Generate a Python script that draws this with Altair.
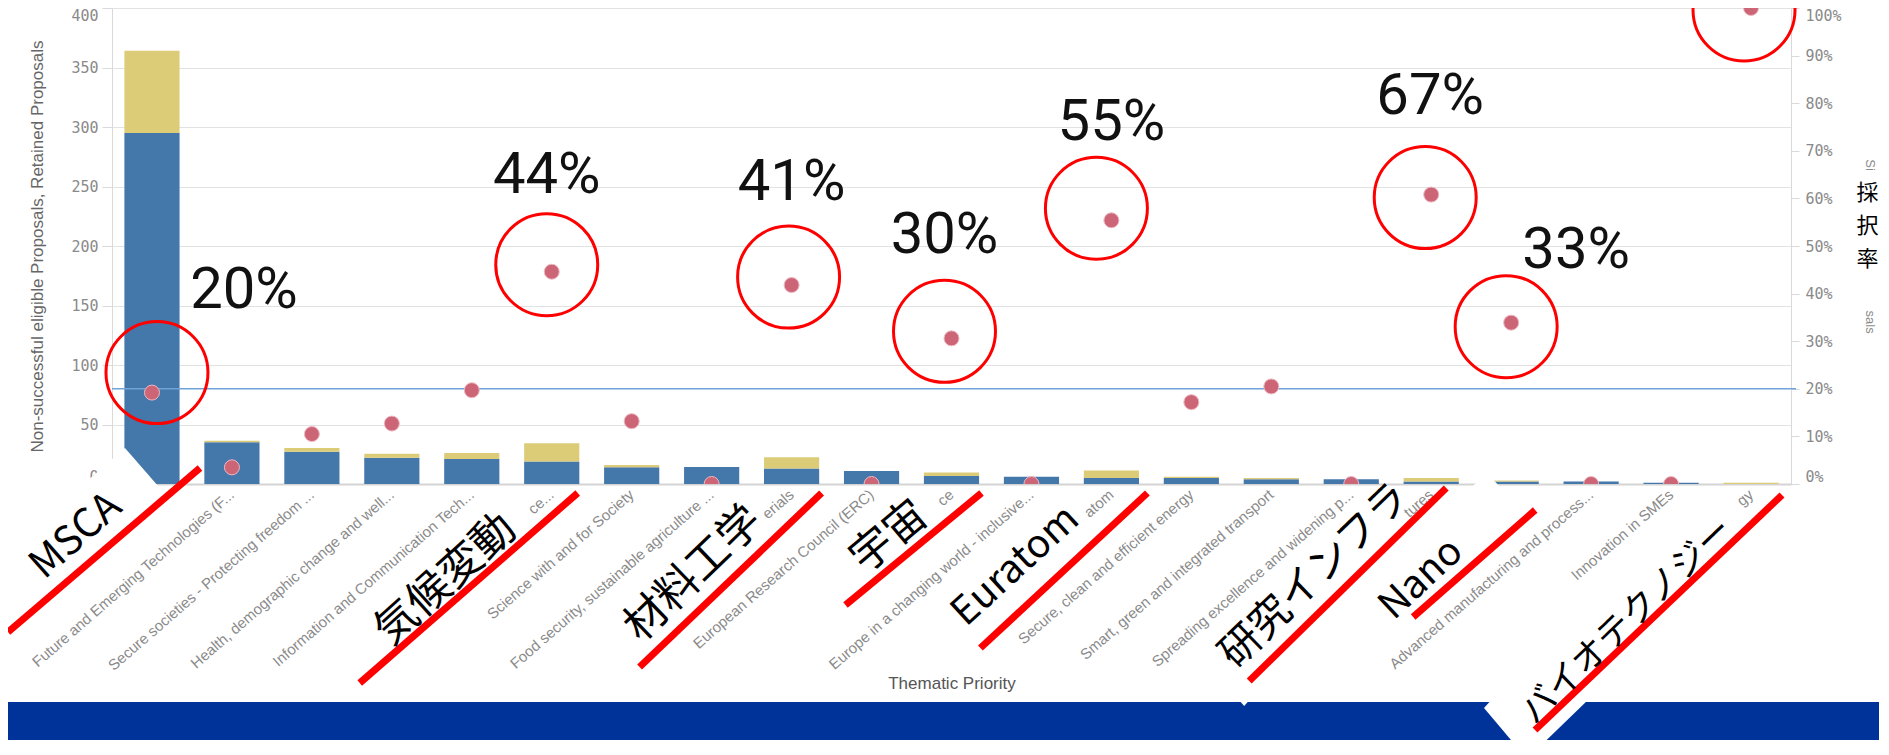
import json
import altair as alt
import pandas as pd

# ---------------- data ----------------
categories = [
    "Marie Skłodowska-Curie Actions (MSCA)",
    "Future and Emerging Technologies (FET)",
    "Secure societies - Protecting freedom and security of Europe and its citizens",
    "Health, demographic change and wellbeing",
    "Information and Communication Technologies",
    "Climate action, environment, resource efficiency and raw materials",
    "Science with and for Society",
    "Food security, sustainable agriculture and forestry, marine research and the bioeconomy",
    "Advanced materials",
    "European Research Council (ERC)",
    "Space",
    "Europe in a changing world - inclusive, innovative and reflective societies",
    "Euratom",
    "Secure, clean and efficient energy",
    "Smart, green and integrated transport",
    "Spreading excellence and widening participation",
    "Research infrastructures",
    "Nanotechnologies",
    "Advanced manufacturing and processing",
    "Innovation in SMEs",
    "Biotechnology",
]
# tick labels as they remain visible on the slide
tick_labels = [
    "",
    "Future and Emerging Technologies (F...",
    "Secure societies - Protecting freedom ...",
    "Health, demographic change and well...",
    "Information and Communication Tech...",
    "ce...",
    "Science with and for Society",
    "Food security, sustainable agriculture ...",
    "erials",
    "European Research Council (ERC)",
    "ce",
    "Europe in a changing world - inclusive...",
    "atom",
    "Secure, clean and efficient energy",
    "Smart, green and integrated transport",
    "Spreading excellence and widening p...",
    "tures",
    "",
    "Advanced manufacturing and process...",
    "Innovation in SMEs",
    "gy",
]
non_successful = [295, 35, 27, 22, 21, 19, 14, 14.3, 13, 11, 6.7, 6, 5, 5, 4, 4, 2, 2, 2, 1, 0]
retained = [69, 1.3, 3.3, 3.5, 5, 15.3, 2, 0, 9.5, 0, 3, 0, 6.4, 1, 1, 0, 3, 1, 0, 0, 1]
success_rate = [19.2, 3.5, 10.5, 12.7, 19.7, 44.6, 13.2, 0, 41.8, 0, 30.6, 0, 55.4,
                17.2, 20.5, 0, 60.8, 33.9, 0, 0, 100]
average_rate = 20

series_names = ["Non-successful eligible Proposals", "Retained Proposals"]

pct_label_text = ["20%", "44%", "41%", "30%", "55%", "67%", "33%"]
pct_label_idx = [0, 5, 8, 10, 12, 16, 17]
circle_idx = [0, 5, 8, 10, 12, 16, 17, 20]
overlay_text = ["MSCA", "気候変動", "材料工学", "宇宙", "Euratom", "研究インフラ", "Nano", "バイオテクノジー"]
overlay_idx = [0, 5, 8, 10, 12, 16, 17, 20]
axis_title_fragments = ["Si", "sals"]

# ---------------- layout / style (not data) ----------------
W, H = 1679, 476
PAD = {"left": 104, "right": 88, "top": 0, "bottom": 256}
BLUE, YELLOW, ROSE = "#4477aa", "#ddcc77", "#cc6677"
GRAY_TXT = "#8a8a8a"
JP_FONT = "Noto Sans CJK JP"

PCT_OFFSETS = [(92, -102), (-5, -96), (0, -102), (-7, -102), (0, -97), (-1, -98), (65, -72)]
CIRCLE_OFFSETS = [(5, -20), (-5, -7), (-3, -8), (-7, -7), (-15, -12), (-6, 3), (-5, 4), (-7, 2)]
# (text dx, text dy, text angle, font size, red-line path relative to the category's baseline)
OVERLAY_STYLE = [
    (-76, 52, 318.5, 40, "M-144,148L48,-16"),
    (-106, 96, 318, 43, "M-192,199L26,9"),
    (-98, 90, 316, 43, "M-152,183L30,9"),
    (-62, 53, 320, 43, "M-106,121L30,9"),
    (-96, 82, 317.5, 39, "M-131,164L36,9"),
    (-116, 92, 316, 41, "M-182,197L15,4"),
    (-90, 95, 317, 39, "M-98,133L24,26"),
    (-124, 137, 316, 35, "M-216,246L31,11"),
]
# white label boxes of the slide that hide parts of the chart (relative to a category baseline)
WHITE_BOXES = [
    (0, "M-27,-36L12.4,9.3L-183.9,179.9L-223.3,134.6Z"),
    (17, "M-23.6,-11L12.6,30.4L-137.8,162.2L-174,120.8Z"),
    (16, "M-194,214L-187,222L-180,214Z"),
    (20, "M-258,214L-267,224L-224,275L-161,214Z"),
]

# ---------------- tables ----------------
bars_df = pd.DataFrame({
    "category": categories * 2,
    "series": [series_names[0]] * len(categories) + [series_names[1]] * len(categories),
    "value": non_successful + retained,
    "order": [0] * len(categories) + [1] * len(categories),
})
rate_df = pd.DataFrame({"category": categories, "rate": [r / 100 for r in success_rate]})

labels_js = json.dumps(tick_labels, ensure_ascii=False)
cats_js = json.dumps(categories, ensure_ascii=False)
label_expr = f"{labels_js}[indexof({cats_js}, datum.value)]"

x_scale = alt.Scale(domain=categories, paddingInner=0.31, paddingOuter=0.155)

x_axis = alt.Axis(
    title="Thematic Priority", labelExpr=label_expr, labelAngle=319, labelAlign="right",
    labelBaseline="middle", labelPadding=8, labelLimit=500, labelOverlap=False,
    labelFont="Liberation Sans", labelFontSize=15, labelColor=GRAY_TXT,
    ticks=False, domainColor="#d4d4d4", domainWidth=2, grid=False,
    titleFont="Liberation Sans", titleFontSize=17, titleFontWeight="normal",
    titleColor="#555555", titleY=199, titleBaseline="middle",
)
left_axis = alt.Axis(
    title="Non-successful eligible Proposals, Retained Proposals",
    values=list(range(0, 401, 50)), labelFont="DejaVu Sans Mono", labelFontSize=15,
    labelColor=GRAY_TXT, labelPadding=4, labelFlush=True, tickSize=10, tickColor="#d9d9d9",
    domainColor="#d9d9d9", gridColor="#e2e2e2", grid=True,
    titleFont="Liberation Sans", titleFontSize=17, titleFontWeight="normal",
    titleColor="#666666", titleX=-75, titleBaseline="middle",
)
right_axis = alt.Axis(
    orient="right", title=["採", "択", "率"], values=[round(i * 0.1, 1) for i in range(11)],
    format=".0%", labelFont="DejaVu Sans Mono", labelFontSize=15, labelColor=GRAY_TXT,
    labelPadding=6, labelFlush=True, tickSize=8, tickColor="#d9d9d9", domainColor="#d9d9d9",
    grid=False, titleAngle=0, titleX=76, titleY=184, titleFont=JP_FONT, titleFontSize=22,
    titleFontWeight="normal", titleColor="black", titleLineHeight=33, titleAlign="center",
    titleBaseline="middle",
)

y_left_scale = alt.Scale(domain=[0, 400], nice=False)
y_right_scale = alt.Scale(domain=[0, 1], nice=False)


def xenc():
    return alt.X("category:N", sort=categories, scale=x_scale, axis=x_axis)


def yleft(field):
    return alt.Y(field, scale=y_left_scale, axis=left_axis)


def yright(field):
    return alt.Y(field, scale=y_right_scale, axis=right_axis)


# ---------------- left (count) group ----------------
bars = alt.Chart(bars_df).mark_bar().encode(
    x=xenc(),
    y=alt.Y("value:Q", stack="zero", scale=y_left_scale, axis=left_axis),
    color=alt.Color("series:N", scale=alt.Scale(domain=series_names, range=[BLUE, YELLOW]), legend=None),
    order=alt.Order("order:Q"),
)

band = alt.Chart(pd.DataFrame({"k": [0]})).mark_rect(color="#003399").encode(
    x=alt.value(-PAD["left"]), x2=alt.value(W + PAD["right"]),
    y=alt.value(694), y2=alt.value(H + PAD["bottom"]),
)

left_layers = [bars, band]
for idx, path in WHITE_BOXES:
    df = pd.DataFrame({"category": [categories[idx]], "value": [0]})
    left_layers.append(
        alt.Chart(df).mark_point(shape=path, size=4, filled=True, color="white",
                                 opacity=1, strokeOpacity=0).encode(x=xenc(), y=yleft("value:Q"))
    )
for text, idx, (dx, dy, ang, fs, line) in zip(overlay_text, overlay_idx, OVERLAY_STYLE):
    df = pd.DataFrame({"category": [categories[idx]], "value": [0], "label": [text]})
    left_layers.append(
        alt.Chart(df).mark_point(shape=line, size=4, filled=False, color="#ff0000",
                                 strokeWidth=7, opacity=1).encode(x=xenc(), y=yleft("value:Q"))
    )
    left_layers.append(
        alt.Chart(df).mark_text(font=JP_FONT, fontSize=fs, fontWeight="normal", angle=ang, color="black",
                                align="center", baseline="middle", xOffset=dx, yOffset=dy).encode(
            x=xenc(), y=yleft("value:Q"), text="label:N")
    )
left = alt.layer(*left_layers)

# ---------------- right (rate) group ----------------
ref = alt.Chart(pd.DataFrame({"rate": [average_rate / 100]})).mark_rule(
    color="#6fa3da", strokeWidth=1.5).encode(
    y=yright("rate:Q"), x=alt.value(0), x2=alt.value(W + 5))

dots = alt.Chart(rate_df).mark_circle(size=225, color=ROSE, opacity=1, stroke="#eeb8c2",
                                      strokeWidth=1, clip=True).encode(
    x=xenc(), y=yright("rate:Q"))

right_layers = [ref, dots]
for idx, (dx, dy) in zip(circle_idx, CIRCLE_OFFSETS):
    df = rate_df.iloc[[idx]]
    right_layers.append(
        alt.Chart(df).mark_point(shape="circle", size=10400, filled=False, color="#ff0000",
                                 strokeWidth=3, opacity=1, xOffset=dx, yOffset=dy).encode(
            x=xenc(), y=yright("rate:Q"))
    )
for text, idx, (dx, dy) in zip(pct_label_text, pct_label_idx, PCT_OFFSETS):
    df = pd.DataFrame({"category": [categories[idx]], "rate": [success_rate[idx] / 100], "label": [text]})
    right_layers.append(
        alt.Chart(df).mark_text(font="Roboto", fontSize=58, color="#111111", align="center",
                                baseline="middle", xOffset=dx, yOffset=dy).encode(
            x=xenc(), y=yright("rate:Q"), text="label:N")
    )
# remnants of the original right-axis title peeking out around the label box
frag_df = pd.DataFrame({"label": axis_title_fragments, "rate": [0.67, 0.34]})
right_layers.append(
    alt.Chart(frag_df).mark_text(font="Liberation Sans", fontSize=13, color="#8a8a8a", angle=90,
                                 align="center", baseline="middle").encode(
        x=alt.value(W + 79), y=yright("rate:Q"), text="label:N")
)
right = alt.layer(*right_layers)

chart = alt.layer(left, right).resolve_scale(y="independent").properties(
    width=W, height=H, padding=PAD, autosize=alt.AutoSizeParams(type="none"),
    background="white",
).configure_view(stroke=None)

chart.save("out.html", embed_options={"renderer": "svg", "actions": False})
